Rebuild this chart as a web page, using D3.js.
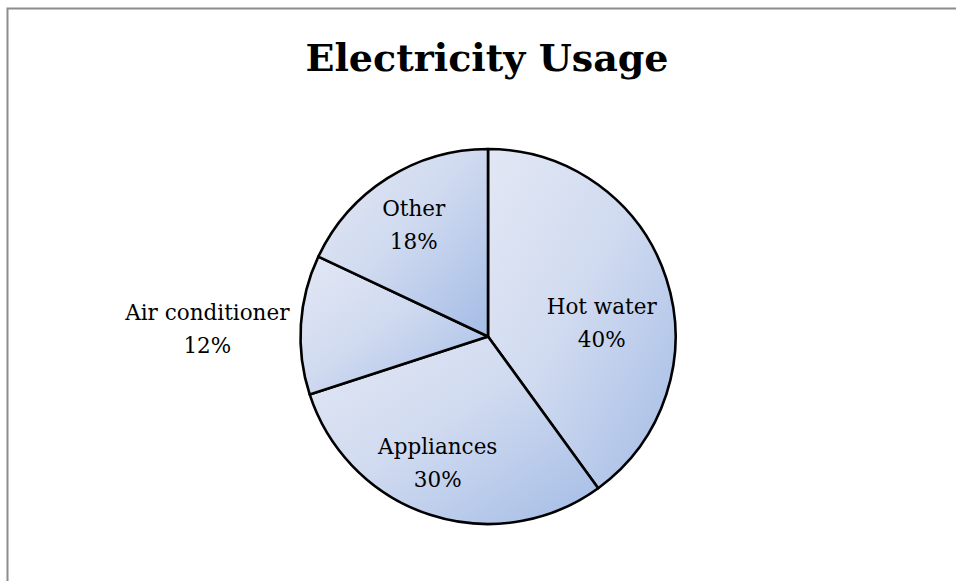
<!DOCTYPE html>
<html>
<head>
<meta charset="utf-8">
<script src="https://cdn.jsdelivr.net/npm/d3@7"></script>
<style>
  html, body { margin: 0; padding: 0; background: #fff; }
  svg { display: block; }
</style>
</head>
<body>
<svg id="chart" width="956" height="581"></svg>
<script>
// Electricity usage share by category (percent)
const categories = ["Hot water", "Appliances", "Air conditioner", "Other"];
const shares = [40, 30, 12, 18];
const chartTitle = "Electricity Usage";

const W = 956, H = 581;
const serif = "'DejaVu Serif', serif";
const svg = d3.select("#chart");

// chart area frame (continues past the right and bottom of the view)
svg.append("rect")
  .attr("x", 7.5).attr("y", 8.5)
  .attr("width", W + 20).attr("height", H + 20)
  .attr("fill", "#fff")
  .attr("stroke", "#8c8c8c").attr("stroke-width", 2);

svg.append("text")
  .attr("x", 487).attr("y", 71)
  .attr("text-anchor", "middle")
  .attr("font-family", serif)
  .attr("font-weight", "bold")
  .attr("font-size", 38)
  .attr("fill", "#000")
  .text(chartTitle);

const cx = 488, cy = 336.5, r = 187.5;

const pie = d3.pie().sort(null).value(d => d.value);
const arcs = pie(categories.map((c, i) => ({ name: c, value: shares[i] })));
const arc = d3.arc().innerRadius(0).outerRadius(r);

// diagonal gradient applied within each slice's bounding box
const defs = svg.append("defs");
const grad = defs.append("linearGradient")
  .attr("id", "sliceFill")
  .attr("x1", "0").attr("y1", "0").attr("x2", "1").attr("y2", "1");
grad.append("stop").attr("offset", "0%").attr("stop-color", "#e2e7f4");
grad.append("stop").attr("offset", "45%").attr("stop-color", "#d1dbf0");
grad.append("stop").attr("offset", "100%").attr("stop-color", "#a4bce6");

const g = svg.append("g").attr("transform", `translate(${cx},${cy})`);

g.selectAll("path.slice")
  .data(arcs)
  .join("path")
  .attr("class", "slice")
  .attr("d", arc)
  .attr("fill", "url(#sliceFill)")
  .attr("stroke", "#000")
  .attr("stroke-width", 2.6)
  .attr("stroke-linejoin", "round");

// data labels: inside the slice where it fits, outside otherwise
const labelArcIn = d3.arc().innerRadius(r * 0.66).outerRadius(r * 0.66);
const labelArcOut = d3.arc().innerRadius(r * 1.5).outerRadius(r * 1.5);
const nudge = {
  "Hot water": [-4, 24],
  "Appliances": [-12, 8],
  "Air conditioner": [0, 9],
  "Other": [-8, -8]
};

const labels = g.selectAll("g.label")
  .data(arcs)
  .join("g")
  .attr("class", "label")
  .attr("transform", d => {
    const inside = d.value >= 15;
    const [x, y] = (inside ? labelArcIn : labelArcOut).centroid(d);
    const [dx, dy] = nudge[d.data.name];
    return `translate(${x + dx},${y + dy})`;
  });

labels.append("text")
  .attr("text-anchor", "middle")
  .attr("font-family", serif)
  .attr("font-size", 21.5)
  .attr("fill", "#000")
  .selectAll("tspan")
  .data(d => [d.data.name, d.data.value + "%"])
  .join("tspan")
  .attr("x", 0)
  .attr("y", (d, i) => i === 0 ? -8 : 25)
  .text(d => d);
</script>
</body>
</html>
